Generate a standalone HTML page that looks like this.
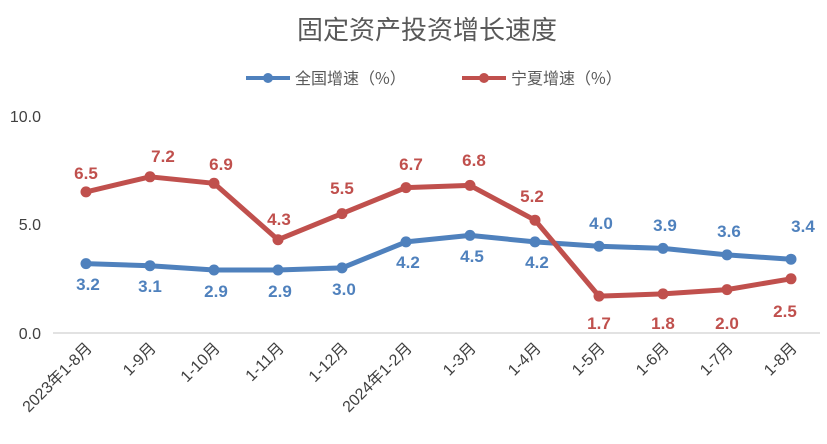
<!DOCTYPE html><html><head><meta charset="utf-8"><style>body{margin:0;background:#fff}svg{display:block}</style></head><body>
<svg width="827" height="444" xmlns="http://www.w3.org/2000/svg" font-family="Liberation Sans, Noto Sans CJK SC, sans-serif">
<text x="427" y="39" font-size="26" fill="#595959" text-anchor="middle" font-family="Noto Sans CJK SC, sans-serif">固定资产投资增长速度</text>
<line x1="246" y1="78" x2="290" y2="78" stroke="#4f81bd" stroke-width="4"/><circle cx="268" cy="78" r="5" fill="#4f81bd"/>
<text x="295" y="84" font-size="16" fill="#595959" font-family="Noto Sans CJK SC, sans-serif">全国增速（%）</text>
<line x1="462" y1="78" x2="506" y2="78" stroke="#c0504d" stroke-width="4"/><circle cx="484" cy="78" r="5" fill="#c0504d"/>
<text x="511" y="84" font-size="16" fill="#595959" font-family="Noto Sans CJK SC, sans-serif">宁夏增速（%）</text>
<line x1="53" y1="333" x2="820" y2="333" stroke="#d9d9d9" stroke-width="1.5"/>
<g font-size="16" fill="#404040" text-anchor="end"><text x="41" y="122">10.0</text><text x="41" y="230">5.0</text><text x="41" y="339">0.0</text></g>
<g font-size="16" fill="#404040" text-anchor="end" font-family="Liberation Sans, Noto Sans CJK SC, sans-serif">
<text transform="translate(93,349) rotate(-45)">2023年1-8月</text>
<text transform="translate(157,349) rotate(-45)">1-9月</text>
<text transform="translate(221,349) rotate(-45)">1-10月</text>
<text transform="translate(285,349) rotate(-45)">1-11月</text>
<text transform="translate(349,349) rotate(-45)">1-12月</text>
<text transform="translate(413,349) rotate(-45)">2024年1-2月</text>
<text transform="translate(477,349) rotate(-45)">1-3月</text>
<text transform="translate(542,349) rotate(-45)">1-4月</text>
<text transform="translate(606,349) rotate(-45)">1-5月</text>
<text transform="translate(670,349) rotate(-45)">1-6月</text>
<text transform="translate(734,349) rotate(-45)">1-7月</text>
<text transform="translate(798,349) rotate(-45)">1-8月</text>
</g>
<polyline fill="none" stroke="#4f81bd" stroke-width="5" stroke-linejoin="round" points="86,263.6 150,265.7 214,270 278,270 342,267.9 406,241.9 470,235.4 535,241.9 599,246.2 663,248.4 727,254.9 791,259.2"/>
<g fill="#4f81bd"><circle cx="86" cy="263.6" r="5.5"/><circle cx="150" cy="265.7" r="5.5"/><circle cx="214" cy="270" r="5.5"/><circle cx="278" cy="270" r="5.5"/><circle cx="342" cy="267.9" r="5.5"/><circle cx="406" cy="241.9" r="5.5"/><circle cx="470" cy="235.4" r="5.5"/><circle cx="535" cy="241.9" r="5.5"/><circle cx="599" cy="246.2" r="5.5"/><circle cx="663" cy="248.4" r="5.5"/><circle cx="727" cy="254.9" r="5.5"/><circle cx="791" cy="259.2" r="5.5"/></g>
<polyline fill="none" stroke="#c0504d" stroke-width="5" stroke-linejoin="round" points="86,191.9 150,176.8 214,183.3 278,239.7 342,213.6 406,187.6 470,185.4 535,220.2 599,296.1 663,293.9 727,289.6 791,278.8"/>
<g fill="#c0504d"><circle cx="86" cy="191.9" r="5.5"/><circle cx="150" cy="176.8" r="5.5"/><circle cx="214" cy="183.3" r="5.5"/><circle cx="278" cy="239.7" r="5.5"/><circle cx="342" cy="213.6" r="5.5"/><circle cx="406" cy="187.6" r="5.5"/><circle cx="470" cy="185.4" r="5.5"/><circle cx="535" cy="220.2" r="5.5"/><circle cx="599" cy="296.1" r="5.5"/><circle cx="663" cy="293.9" r="5.5"/><circle cx="727" cy="289.6" r="5.5"/><circle cx="791" cy="278.8" r="5.5"/></g>
<g font-size="17" font-weight="bold" fill="#4f81bd" text-anchor="middle">
<text x="88" y="290">3.2</text><text x="150" y="292">3.1</text><text x="216" y="297">2.9</text><text x="280" y="297">2.9</text><text x="344" y="295">3.0</text><text x="408" y="268">4.2</text><text x="472" y="262">4.5</text><text x="537" y="268">4.2</text>
<text x="601" y="229">4.0</text><text x="665" y="231">3.9</text><text x="729" y="237">3.6</text><text x="803" y="232">3.4</text></g>
<g font-size="17" font-weight="bold" fill="#c0504d" text-anchor="middle">
<text x="86" y="179">6.5</text><text x="163" y="162">7.2</text><text x="221" y="170">6.9</text><text x="279" y="225">4.3</text><text x="342" y="194">5.5</text><text x="411" y="170">6.7</text><text x="474" y="166">6.8</text><text x="532" y="202">5.2</text>
<text x="599" y="329">1.7</text><text x="663" y="329">1.8</text><text x="727" y="329">2.0</text><text x="785" y="317">2.5</text></g>
</svg></body></html>
